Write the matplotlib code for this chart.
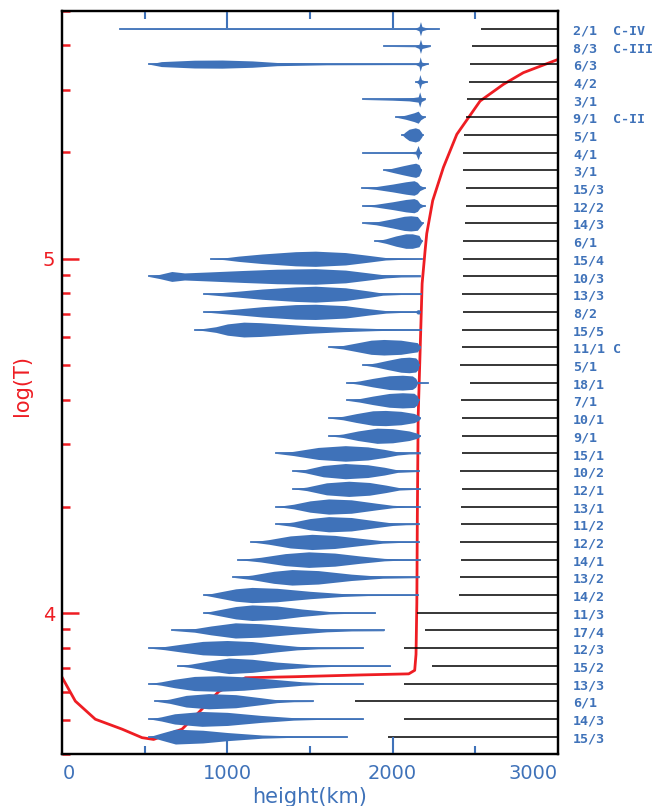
import numpy as np
import matplotlib
matplotlib.use('Agg')
import matplotlib.pyplot as plt
from matplotlib.ticker import FixedLocator, NullFormatter, LogLocator

blue = '#3f72b9'
red = '#ee1d23'

# line labels, top to bottom
labels = ['2/1  C-IV', '8/3  C-III', '6/3', '4/2', '3/1', '9/1  C-II', '5/1', '4/1',
          '3/1', '15/3', '12/2', '14/3', '6/1', '15/4', '10/3', '13/3', '8/2', '15/5',
          '11/1 C', '5/1', '18/1', '7/1', '10/1', '9/1', '15/1', '10/2', '12/1', '13/1',
          '11/2', '12/2', '14/1', '13/2', '14/2', '11/3', '17/4', '12/3', '15/2', '13/3',
          '6/1', '14/3', '15/3']

# height (km) where the black reference line starts, for each row
black_start = [2534, 2480, 2466, 2460, 2453, 2443, 2433, 2429, 2429, 2447, 2445, 2439,
               2429, 2429, 2429, 2423, 2429, 2423, 2423, 2411, 2466, 2415, 2419, 2419,
               2419, 2411, 2419, 2415, 2415, 2411, 2415, 2411, 2403, 2147, 2199, 2072,
               2241, 2072, 1773, 2072, 1975]

# contribution function outlines: (height km, half thickness in row units)
bodies = [
    [(351, 0.0), (600, 0.02), (2135, 0.02), (2160, 0.12), (2169, 0.40), (2178, 0.12), (2215, 0.02), (2280, 0.0)],
    [(1947, 0.0), (2135, 0.02), (2160, 0.12), (2169, 0.40), (2178, 0.12), (2229, 0.0)],
    [(523, 0.0), (600, 0.14), (800, 0.22), (968, 0.23), (1150, 0.18), (1300, 0.09), (1600, 0.04),
     (2000, 0.03), (2140, 0.03), (2160, 0.12), (2167, 0.41), (2176, 0.12), (2213, 0.0)],
    [(2140, 0.0), (2158, 0.12), (2165, 0.41), (2175, 0.12), (2210, 0.0)],
    [(1821, 0.0), (2000, 0.04), (2100, 0.08), (2155, 0.15), (2164, 0.43), (2174, 0.12), (2199, 0.0)],
    [(2021, 0.0), (2080, 0.12), (2130, 0.25), (2155, 0.34), (2170, 0.15), (2195, 0.0)],
    [(2058, 0.0), (2075, 0.15), (2100, 0.32), (2138, 0.40), (2160, 0.33), (2175, 0.14), (2183, 0.0)],
    [(1821, 0.0), (2100, 0.03), (2140, 0.08), (2155, 0.40), (2165, 0.1), (2175, 0.0)],
    [(1947, 0.0), (2000, 0.12), (2060, 0.25), (2110, 0.35), (2140, 0.40), (2160, 0.32), (2175, 0.0)],
    [(1815, 0.0), (1900, 0.08), (2000, 0.22), (2080, 0.35), (2130, 0.41), (2150, 0.32), (2165, 0.15), (2199, 0.0)],
    [(1821, 0.0), (1900, 0.08), (2000, 0.22), (2080, 0.35), (2130, 0.40), (2150, 0.32), (2165, 0.13), (2195, 0.0)],
    [(1821, 0.0), (1900, 0.08), (2000, 0.26), (2070, 0.40), (2110, 0.43), (2150, 0.39), (2183, 0.0)],
    [(1896, 0.0), (1960, 0.13), (2020, 0.29), (2080, 0.41), (2120, 0.41), (2160, 0.32), (2179, 0.0)],
    [(903, 0.0), (980, 0.05), (1068, 0.15), (1210, 0.27), (1412, 0.40), (1533, 0.43), (1715, 0.35),
     (1856, 0.19), (1957, 0.07), (2060, 0.03), (2179, 0.0)],
    [(523, 0.0), (590, 0.12), (663, 0.28), (740, 0.2), (900, 0.26), (1100, 0.34), (1300, 0.41),
     (1533, 0.44), (1715, 0.36), (1856, 0.2), (1960, 0.08), (2050, 0.03), (2169, 0.02)],
    [(856, 0.0), (950, 0.08), (1068, 0.17), (1210, 0.29), (1412, 0.41), (1533, 0.45), (1715, 0.36),
     (1856, 0.18), (1940, 0.06), (2050, 0.02), (2175, 0.02)],
    [(856, 0.0), (950, 0.08), (1068, 0.17), (1210, 0.29), (1412, 0.41), (1533, 0.43), (1715, 0.35),
     (1856, 0.18), (1960, 0.07), (2060, 0.03), (2140, 0.03), (2150, 0.12), (2162, 0.12), (2168, 0.0)],
    [(802, 0.0), (870, 0.08), (930, 0.16), (1000, 0.32), (1099, 0.42), (1200, 0.39), (1350, 0.3),
     (1500, 0.21), (1700, 0.12), (1900, 0.06), (2050, 0.03), (2175, 0.02)],
    [(1613, 0.0), (1700, 0.1), (1780, 0.24), (1870, 0.40), (1947, 0.44), (2050, 0.40), (2120, 0.3),
     (2150, 0.26), (2169, 0.02)],
    [(1821, 0.0), (1900, 0.12), (1970, 0.26), (2050, 0.41), (2100, 0.44), (2140, 0.40), (2155, 0.25), (2160, 0.0)],
    [(1724, 0.0), (1800, 0.1), (1880, 0.24), (1980, 0.39), (2060, 0.42), (2120, 0.38), (2140, 0.25),
     (2150, 0.06), (2160, 0.02), (2213, 0.0)],
    [(1724, 0.0), (1800, 0.1), (1880, 0.24), (1980, 0.39), (2060, 0.43), (2130, 0.40), (2150, 0.25), (2159, 0.0)],
    [(1613, 0.0), (1700, 0.1), (1780, 0.25), (1880, 0.41), (1957, 0.43), (2050, 0.38), (2130, 0.26),
     (2155, 0.15), (2169, 0.02)],
    [(1613, 0.0), (1700, 0.1), (1790, 0.27), (1906, 0.43), (2000, 0.40), (2100, 0.27), (2150, 0.14), (2169, 0.02)],
    [(1296, 0.0), (1400, 0.12), (1550, 0.34), (1714, 0.44), (1850, 0.37), (1950, 0.23), (2030, 0.09),
     (2100, 0.03), (2169, 0.02)],
    [(1397, 0.0), (1470, 0.09), (1580, 0.32), (1714, 0.43), (1850, 0.36), (1950, 0.22), (2030, 0.07), (2159, 0.02)],
    [(1397, 0.0), (1480, 0.1), (1600, 0.34), (1735, 0.43), (1860, 0.36), (1960, 0.21), (2040, 0.07), (2169, 0.02)],
    [(1296, 0.0), (1400, 0.13), (1500, 0.32), (1613, 0.43), (1750, 0.38), (1900, 0.19), (2000, 0.07),
     (2080, 0.03), (2165, 0.02)],
    [(1296, 0.0), (1400, 0.13), (1500, 0.32), (1613, 0.43), (1750, 0.38), (1900, 0.19), (2000, 0.07),
     (2080, 0.03), (2159, 0.02)],
    [(1143, 0.0), (1250, 0.13), (1380, 0.34), (1512, 0.43), (1650, 0.37), (1800, 0.21), (1940, 0.07),
     (2040, 0.03), (2159, 0.02)],
    [(1064, 0.0), (1200, 0.13), (1350, 0.34), (1492, 0.44), (1650, 0.37), (1800, 0.21), (1950, 0.07),
     (2050, 0.03), (2165, 0.02)],
    [(1034, 0.0), (1150, 0.13), (1280, 0.34), (1391, 0.44), (1550, 0.38), (1750, 0.18), (1940, 0.05), (2159, 0.02)],
    [(856, 0.0), (950, 0.17), (1050, 0.35), (1149, 0.43), (1300, 0.38), (1500, 0.21), (1700, 0.08),
     (1850, 0.03), (2155, 0.02)],
    [(856, 0.0), (950, 0.17), (1050, 0.35), (1149, 0.44), (1300, 0.38), (1450, 0.21), (1615, 0.07),
     (1750, 0.03), (1896, 0.02)],
    [(664, 0.0), (800, 0.1), (900, 0.25), (1048, 0.43), (1200, 0.38), (1400, 0.22), (1600, 0.08),
     (1750, 0.03), (1946, 0.02)],
    [(527, 0.0), (620, 0.09), (720, 0.22), (850, 0.38), (998, 0.43), (1150, 0.37), (1300, 0.21),
     (1420, 0.1), (1550, 0.04), (1821, 0.02)],
    [(701, 0.0), (780, 0.1), (880, 0.26), (1008, 0.44), (1150, 0.37), (1300, 0.21), (1500, 0.08),
     (1650, 0.03), (1987, 0.02)],
    [(527, 0.0), (600, 0.1), (680, 0.24), (800, 0.4), (947, 0.44), (1100, 0.38), (1300, 0.22),
     (1450, 0.1), (1600, 0.04), (1821, 0.02)],
    [(563, 0.0), (650, 0.12), (750, 0.33), (886, 0.43), (1050, 0.37), (1200, 0.2), (1300, 0.08),
     (1400, 0.03), (1516, 0.02)],
    [(527, 0.0), (600, 0.12), (680, 0.29), (846, 0.42), (1000, 0.37), (1200, 0.2), (1400, 0.07),
     (1550, 0.03), (1821, 0.02)],
    [(527, 0.0), (600, 0.2), (685, 0.42), (850, 0.36), (1000, 0.23), (1210, 0.09), (1400, 0.04), (1724, 0.02)],
]

# temperature model: height (km) vs log10(T)
temp_h = [0, 79, 200, 362, 483, 553, 725, 826, 947, 1109, 1411, 1815, 2098, 2134, 2142,
          2147, 2150, 2155, 2167, 2179, 2197, 2207, 2243, 2308, 2389, 2530, 2671, 2792, 3000]
temp_logT = [3.818, 3.752, 3.701, 3.673, 3.649, 3.644, 3.673, 3.720, 3.779, 3.818, 3.821,
             3.826, 3.829, 3.839, 3.884, 4.03, 4.273, 4.554, 4.742, 4.930, 5.023, 5.071,
             5.164, 5.258, 5.351, 5.445, 5.492, 5.525, 5.562]

fig = plt.figure(figsize=(6.55, 8.06), dpi=100)
ax = fig.add_axes([62.3 / 655, 1 - 754.3 / 806, 495.4 / 655, 743.3 / 806])
rows = np.arange(1, len(labels) + 1)

# black reference lines
ax.hlines(rows, black_start, 3000, color='black', lw=1.1, zorder=1)

# blue contribution shapes
for r, body in zip(rows, bodies):
    h = np.array([p[0] for p in body])
    w = np.array([p[1] for p in body])
    ax.fill_between(h, r - w, r + w, color=blue, lw=0, zorder=2)
    ax.plot([h[0], h[-1]], [r, r], color=blue, lw=1.3, zorder=2)

ax.set_xlim(0, 3000)
ax.set_ylim(len(labels) + 1, 0)
ax.set_yticks([])

for r, lab in zip(rows, labels):
    ax.text(1.031, r + 0.12, lab, transform=ax.get_yaxis_transform(), color=blue,
            fontsize=9.6, fontweight='bold', family='DejaVu Sans Mono',
            ha='left', va='center')

ax.set_xticks([0, 1000, 2000, 3000])
ax.set_xticklabels(['0', '1000', '2000', '3000'])
ax.set_xticks([500, 1500, 2500], minor=True)
ax.tick_params(axis='x', which='both', direction='in', top=True, colors=blue,
               width=1.5, labelsize=14, pad=7)
ax.tick_params(axis='x', which='major', length=12)
ax.tick_params(axis='x', which='minor', length=5.5)
xt = ax.xaxis.get_major_ticks()
for t in (xt[0], xt[-1]):
    t.tick1line.set_visible(False)
    t.tick2line.set_visible(False)
xl = ax.get_xticklabels()
xl[0].set_ha('left')
xl[-1].set_ha('right')
for s in ax.spines.values():
    s.set_linewidth(1.6)

# temperature axis, drawn underneath the shapes
axT = ax.twinx()
axT.set_zorder(0)
ax.set_zorder(1)
ax.patch.set_visible(False)
axT.set_yscale('log')
axT.set_ylim(4000, 5e5)
axT.plot(temp_h, 10 ** np.array(temp_logT), color=red, lw=2)
axT.yaxis.set_ticks_position('left')
axT.yaxis.set_label_position('left')
axT.yaxis.set_major_locator(FixedLocator([1e4, 1e5]))
axT.set_yticklabels(['4', '5'])
axT.yaxis.set_minor_locator(LogLocator(base=10, subs=np.arange(2, 10)))
axT.yaxis.set_minor_formatter(NullFormatter())
axT.tick_params(axis='y', which='both', direction='in', colors=red, width=1.8,
                labelsize=14, pad=5)
axT.tick_params(axis='y', which='major', length=12)
axT.tick_params(axis='y', which='minor', length=5.5)
for s in axT.spines.values():
    s.set_linewidth(1.6)
    s.set_color('black')

fig.text(310 / 655, 1 - 797 / 806, 'height(km)', color=blue, fontsize=15,
         ha='center', va='center')
fig.text(22 / 655, 1 - 385 / 806, 'log(T)', color=red, fontsize=15,
         rotation=90, ha='center', va='center')

fig.savefig('out.png', dpi=100)
